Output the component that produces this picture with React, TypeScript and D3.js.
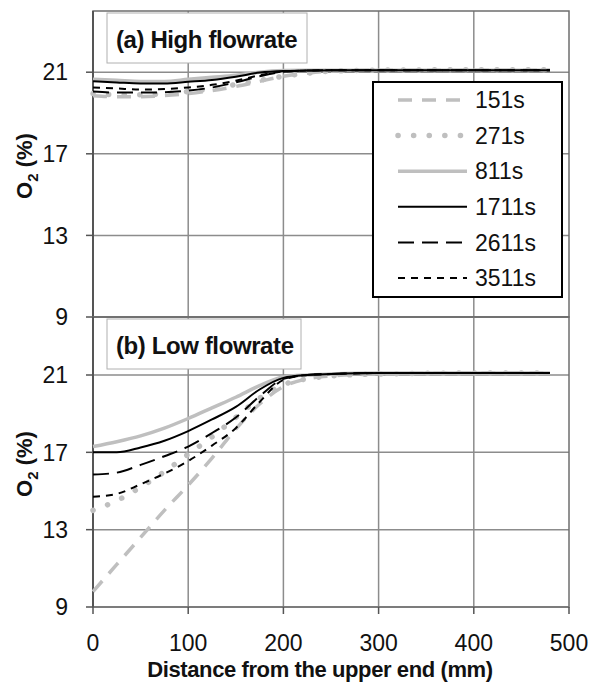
import React from "react";
import * as d3 from "d3";

const distance = [0, 25, 50, 75, 100, 125, 150, 175, 200, 225, 250, 300, 400, 480];
const seriesNames = ["151s", "271s", "811s", "1711s", "2611s", "3511s"];

const highFlow151 = [19.85, 19.8, 19.8, 19.85, 19.95, 20.1, 20.3, 20.55, 20.8, 20.95, 21.05, 21.1, 21.1, 21.1];
const highFlow271 = [19.95, 19.9, 19.9, 19.95, 20.05, 20.2, 20.4, 20.6, 20.8, 20.95, 21.05, 21.1, 21.12, 21.12];
const highFlow811 = [20.65, 20.6, 20.55, 20.55, 20.65, 20.75, 20.85, 21.0, 21.08, 21.1, 21.1, 21.1, 21.1, 21.1];
const highFlow1711 = [20.56, 20.5, 20.45, 20.45, 20.53, 20.62, 20.78, 20.98, 21.06, 21.08, 21.1, 21.1, 21.1, 21.1];
const highFlow2611 = [20.05, 20.0, 20.0, 20.02, 20.1, 20.25, 20.5, 20.8, 21.02, 21.08, 21.1, 21.1, 21.1, 21.1];
const highFlow3511 = [20.25, 20.2, 20.15, 20.18, 20.25, 20.38, 20.58, 20.85, 21.03, 21.08, 21.1, 21.1, 21.1, 21.1];

const lowFlow151 = [9.8, 11.2, 12.6, 14.0, 15.3, 16.7, 18.2, 19.5, 20.4, 20.8, 20.95, 21.05, 21.1, 21.1];
const lowFlow271 = [14.0, 14.5, 15.2, 16.0, 16.9, 17.8, 18.8, 19.8, 20.5, 20.8, 20.95, 21.05, 21.1, 21.1];
const lowFlow811 = [17.3, 17.55, 17.85, 18.25, 18.75, 19.3, 19.85, 20.45, 20.9, 21.0, 21.05, 21.1, 21.1, 21.1];
const lowFlow1711 = [17.0, 17.0, 17.25, 17.6, 18.1, 18.7, 19.35, 20.25, 20.85, 21.0, 21.05, 21.1, 21.1, 21.1];
const lowFlow2611 = [15.85, 15.95, 16.35, 16.8, 17.3, 18.0, 18.8, 19.9, 20.8, 21.0, 21.05, 21.1, 21.1, 21.1];
const lowFlow3511 = [14.7, 14.85, 15.35, 15.9, 16.55, 17.35, 18.25, 19.6, 20.75, 21.0, 21.05, 21.1, 21.1, 21.1];

const yTicks = [9, 13, 17, 21];
const xTicks = [0, 100, 200, 300, 400, 500];
const panelTitles = ["(a) High flowrate", "(b) Low flowrate"];
const yTitle = "O";
const xTitle = "Distance from the upper end (mm)";

const GRAY = "#bfbfbf";
const styles = [
  { stroke: GRAY, width: 3.5, dash: "14,10", cap: "butt" },
  { stroke: GRAY, width: 5.5, dash: "0.1,15.5", cap: "round" },
  { stroke: GRAY, width: 3.5, dash: "", cap: "butt" },
  { stroke: "#000", width: 2, dash: "", cap: "butt" },
  { stroke: "#000", width: 2, dash: "16,8", cap: "butt" },
  { stroke: "#000", width: 2, dash: "7,6", cap: "butt" },
];

const FONT = "'Liberation Sans', Arial, sans-serif";

export default function App() {
  const x = d3.scaleLinear().domain([0, 500]).range([93, 569]);
  const yTop = d3.scaleLinear().domain([9, 24]).range([317, 11]);
  const yBot = d3.scaleLinear().domain([9, 24]).range([607, 317]);

  const panels = [
    { y: yTop, data: [highFlow151, highFlow271, highFlow811, highFlow1711, highFlow2611, highFlow3511], title: panelTitles[0] },
    { y: yBot, data: [lowFlow151, lowFlow271, lowFlow811, lowFlow1711, lowFlow2611, lowFlow3511], title: panelTitles[1] },
  ];

  return (
    <svg width={593} height={687} style={{ position: "absolute", left: 0, top: 0, background: "#fff" }} fontFamily={FONT}>
      <rect x={0} y={0} width={593} height={687} fill="#fff" />
      {panels.map((p, pi) => {
        const [y0, y1] = p.y.range();
        const line = d3
          .line<number>()
          .x((_, i) => x(distance[i]))
          .y((v) => p.y(v))
          .curve(d3.curveMonotoneX);
        return (
          <g key={pi}>
            {xTicks.slice(1, -1).map((t) => (
              <line key={"gx" + t} x1={x(t)} x2={x(t)} y1={y1} y2={y0} stroke="#8c8c8c" strokeWidth={1.5} />
            ))}
            {yTicks.map((t) => (
              <line key={"gy" + t} x1={x(0)} x2={x(500)} y1={p.y(t)} y2={p.y(t)} stroke="#8c8c8c" strokeWidth={1.5} />
            ))}
            <rect x={x(0)} y={y1} width={x(500) - x(0)} height={y0 - y1} fill="none" stroke="#6e6e6e" strokeWidth={1.5} />
            <line x1={x(0)} x2={x(0)} y1={y1} y2={y0} stroke="#555" strokeWidth={2} />
            {yTicks.map((t) => (
              <g key={"yt" + t}>
                <line x1={x(0) - 7} x2={x(0)} y1={p.y(t)} y2={p.y(t)} stroke="#555" strokeWidth={1.5} />
                <text x={68} y={p.y(t)} dy="0.36em" textAnchor="end" fontSize={23} fill="#111">
                  {t}
                </text>
              </g>
            ))}
            <text
              transform={`translate(32, ${(y0 + y1) / 2 + 2}) rotate(-90)`}
              textAnchor="middle"
              fontSize={22}
              fontWeight="bold"
              fill="#111"
            >
              {yTitle}
              <tspan fontSize={15} dy={6}>2</tspan>
              <tspan dy={-6}> (%)</tspan>
            </text>
            {p.data.map((vals, si) => (
              <path
                key={si}
                d={line(vals) || ""}
                fill="none"
                stroke={styles[si].stroke}
                strokeWidth={styles[si].width}
                strokeDasharray={styles[si].dash}
                strokeLinecap={styles[si].cap as any}
              />
            ))}
            <rect x={107} y={y1 + 2} width={pi === 0 ? 200 : 194} height={50} fill="#fff" stroke="#b0b0b0" strokeWidth={1} />
            <text x={116} y={y1 + 37} fontSize={24} fontWeight="bold" fill="#111" letterSpacing={-0.4}>
              {p.title}
            </text>
          </g>
        );
      })}
      {xTicks.map((t) => (
        <g key={"xt" + t}>
          <line x1={x(t)} x2={x(t)} y1={607} y2={614} stroke="#555" strokeWidth={1.5} />
          <text x={x(t)} y={651} textAnchor="middle" fontSize={23} fill="#111">
            {t}
          </text>
        </g>
      ))}
      <text x={320} y={677} textAnchor="middle" fontSize={22} fontWeight="bold" fill="#111" letterSpacing={-0.4}>
        {xTitle}
      </text>
      <rect x={373} y={82} width={189} height={215} fill="#fff" stroke="#000" strokeWidth={2} />
      {seriesNames.map((n, i) => {
        const ly = 100 + i * 35.6;
        return (
          <g key={n}>
            <line
              x1={398}
              x2={467}
              y1={ly}
              y2={ly}
              stroke={styles[i].stroke}
              strokeWidth={styles[i].width}
              strokeDasharray={styles[i].dash}
              strokeLinecap={styles[i].cap as any}
            />
            <text x={475} y={ly} dy="0.36em" fontSize={23} fill="#111">
              {n}
            </text>
          </g>
        );
      })}
    </svg>
  );
}
